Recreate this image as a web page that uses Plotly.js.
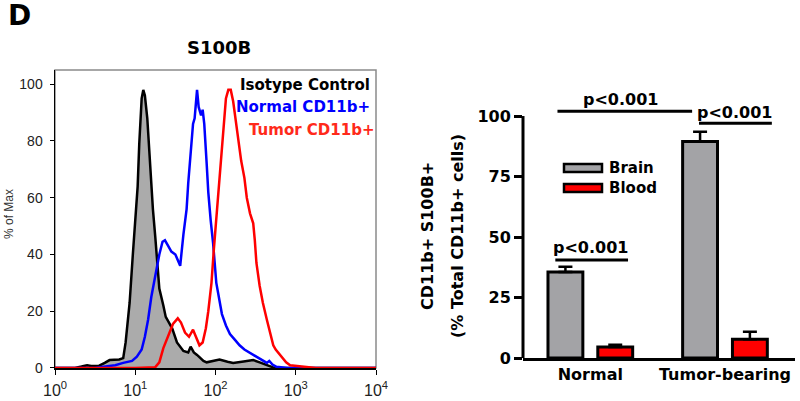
<!DOCTYPE html>
<html><head><meta charset="utf-8">
<script src="https://cdn.plot.ly/plotly-3.0.1.min.js"></script>
<style>html,body{margin:0;padding:0;background:#fff}#chart{width:800px;height:401px}</style>
</head><body><div id="chart"></div>
<script>
// ---- Histogram (log10 fluorescence, % of Max) ----
const isoDecades = [0,0.25,0.33,0.40,0.45,0.55,0.62,0.68,0.80,0.85,0.88,0.93,0.97,1.00,1.03,1.05,1.08,1.10,1.12,1.15,1.20,1.22,1.25,1.28,1.30,1.35,1.38,1.46,1.52,1.60,1.66,1.69,1.73,1.77,1.85,1.89,1.97,2.05,2.15,2.22,2.35,2.47,2.55,2.64,2.71,2.80,4];
const isoPct     = [0,0,0.5,1,0.7,0.8,1.8,2.8,3,3.5,9,23,40,52,64,79,95,98,96,88,64,56,46,35,28,22,18,14,9,6,5.5,7.5,5.5,4.6,2.5,2,2.5,3,2.2,1.8,2.3,2.8,2,1,0.3,0,0];
const normDecades = [0,0.50,0.58,0.75,0.85,0.96,1.02,1.08,1.12,1.16,1.20,1.25,1.30,1.34,1.37,1.41,1.45,1.50,1.56,1.60,1.64,1.66,1.68,1.70,1.72,1.74,1.76,1.77,1.79,1.82,1.84,1.86,1.89,1.91,1.94,1.97,2.01,2.05,2.08,2.13,2.18,2.24,2.30,2.36,2.41,2.46,2.51,2.58,2.64,2.67,2.71,2.76,2.90,4];
const normPct     = [0,0,0.4,1,1.8,2.5,4,6.5,11,17,25,33,40,44.5,45,43,41,40,36,47,56,65,72,80,86,88,95,98,92,89,91,86,72,62,52,44,30,23,19,15,12,10,8,6.5,5.7,4.8,4,3,1.8,2.5,1.2,0.4,0,0];
const tumDecades = [0,1.00,1.25,1.30,1.35,1.42,1.47,1.53,1.57,1.62,1.67,1.72,1.76,1.80,1.84,1.88,1.91,1.95,1.98,2.01,2.04,2.07,2.10,2.13,2.16,2.19,2.22,2.25,2.28,2.32,2.36,2.39,2.43,2.47,2.49,2.51,2.55,2.59,2.64,2.68,2.72,2.75,2.82,2.88,2.93,3.05,3.14,3.25,4];
const tumPct     = [0,0,0.3,2,7,12,15.5,17.5,16,12.5,11,13.5,11,8,9,14,20,30,42,52,62,74,85,95,98,98,94,88,81,73,67,60,54.5,51,45,37,29,23,17,12,8,6.5,4,2,1,0.6,0.2,0,0];
const histTickVals = [1,10,100,1000,10000];
const histTickText = ['10<sup>0</sup>','10<sup>1</sup>','10<sup>2</sup>','10<sup>3</sup>','10<sup>4</sup>'];

// ---- Bar chart ----
const groups = ['Normal','Tumor-bearing'];
const brainVals = [35.5, 89.5];
const brainErr  = [2.2, 4.0];
const bloodVals = [4.5, 7.8];
const bloodErr  = [1.0, 3.0];

const toLin = a => a.map(v => Math.pow(10, v));
const FONT = 'Liberation Sans, Arial, sans-serif';
const BOLD = 'DejaVu Sans, Liberation Sans, sans-serif';

const traces = [
  {x: toLin(isoDecades), y: isoPct, type:'scatter', mode:'lines', fill:'tozeroy',
   fillcolor:'#ababab', line:{color:'#000', width:2.5}, xaxis:'x', yaxis:'y', showlegend:false},
  {x: toLin(normDecades), y: normPct, type:'scatter', mode:'lines',
   line:{color:'#0000ff', width:2.5}, xaxis:'x', yaxis:'y', showlegend:false},
  {x: toLin(tumDecades), y: tumPct, type:'scatter', mode:'lines',
   line:{color:'#ff0000', width:2.5}, xaxis:'x', yaxis:'y', showlegend:false},
  {x: groups, y: brainVals, type:'bar', name:'Brain', xaxis:'x2', yaxis:'y2',
   marker:{color:'#a3a3a6', line:{color:'#000', width:3}},
   error_y:{type:'data', symmetric:false, array:brainErr, arrayminus:[0,0], color:'#000', thickness:2.5, width:7},
   showlegend:false},
  {x: groups, y: bloodVals, type:'bar', name:'Blood', xaxis:'x2', yaxis:'y2',
   marker:{color:'#ff0000', line:{color:'#000', width:3}},
   error_y:{type:'data', symmetric:false, array:bloodErr, arrayminus:[0,0], color:'#000', thickness:2.5, width:7},
   showlegend:false}
];

const layout = {
  width:800, height:401, margin:{l:0,r:0,t:0,b:0},
  paper_bgcolor:'#fff', plot_bgcolor:'rgba(0,0,0,0)',
  font:{family:FONT, color:'#000'},
  barmode:'group', bargap:0.26, bargroupgap:0.3,
  xaxis:{domain:[0.06875,0.47], type:'log', range:[0,4], tickvals:histTickVals, ticktext:histTickText,
    showline:true, linecolor:'#000', linewidth:1.5, ticks:'outside', ticklen:5, tickcolor:'#000',
    ticklabelstandoff:2,
    showgrid:false, zeroline:false, tickfont:{size:16, color:'#222'}},
  yaxis:{domain:[0.08229,0.82544], range:[0,105], tickvals:[0,20,40,60,80,100],
    showline:true, linecolor:'#000', linewidth:1.5, ticks:'outside', ticklen:4, tickcolor:'#000',
    ticklabelstandoff:4,
    showgrid:false, zeroline:false, tickfont:{size:14, color:'#222'}},
  xaxis2:{domain:[0.65375,0.99375], anchor:'y2', type:'category', range:[-0.5,1.52],
    showline:true, linecolor:'#000', linewidth:3, ticks:'', showgrid:false, zeroline:false,
    tickfont:{family:BOLD, size:16, weight:'bold', color:'#000'}},
  yaxis2:{domain:[0.10723,0.78304], anchor:'x2', range:[0,112], tickvals:[0,25,50,75,100],
    showline:false, ticks:'outside', ticklen:8, tickwidth:3, tickcolor:'#000',
    showgrid:false, zeroline:false, tickfont:{family:BOLD, size:16, weight:'bold', color:'#000'}},
  shapes:[
    // histogram frame (gray)
    {type:'rect', xref:'x domain', yref:'y domain', x0:0, x1:1, y0:0, y1:1, line:{color:'#8a8a8a', width:1.5}, layer:'below'},
    // bar chart y axis line
    {type:'line', xref:'x2 domain', yref:'y2', x0:0, x1:0, y0:0, y1:100, line:{color:'#000', width:3}},
    // significance lines
    {type:'line', xref:'x2', yref:'y2', x0:-0.244, x1:0.756, y0:102, y1:102, line:{color:'#000', width:3}},
    {type:'line', xref:'x2', yref:'y2', x0:0.807, x1:1.348, y0:97, y1:97, line:{color:'#000', width:3}},
    {type:'line', xref:'x2', yref:'y2', x0:-0.26, x1:0.28, y0:40.5, y1:40.5, line:{color:'#000', width:3}},
    // legend boxes
    {type:'rect', xref:'paper', yref:'paper', x0:564/800, x1:602/800, y0:1-172/401, y1:1-164/401, fillcolor:'#a3a3a6', line:{color:'#000', width:2.5}},
    {type:'rect', xref:'paper', yref:'paper', x0:564/800, x1:602/800, y0:1-192/401, y1:1-184/401, fillcolor:'#ff0000', line:{color:'#000', width:2.5}}
  ],
  annotations:[
    {text:'<b>D</b>', xref:'paper', yref:'paper', x:6/800, y:1-16/401, xanchor:'left', yanchor:'middle', showarrow:false, font:{family:BOLD, size:28}},
    {text:'<b>S100B</b>', xref:'paper', yref:'paper', x:219/800, y:1-48/401, xanchor:'center', yanchor:'middle', showarrow:false, font:{family:BOLD, size:18}},
    {text:'% of Max', xref:'paper', yref:'paper', x:9/800, y:1-214/401, textangle:-90, xanchor:'center', yanchor:'middle', showarrow:false, font:{size:12, color:'#333'}},
    {text:'<b>Isotype Control</b>', xref:'paper', yref:'paper', x:372/800, y:1-85/401, xanchor:'right', yanchor:'middle', showarrow:false, font:{family:BOLD, size:15, color:'#000'}},
    {text:'<b>Normal CD11b+</b>', xref:'paper', yref:'paper', x:372/800, y:1-107/401, xanchor:'right', yanchor:'middle', showarrow:false, font:{family:BOLD, size:15, color:'#0000ff'}},
    {text:'<b>Tumor CD11b+</b>', xref:'paper', yref:'paper', x:376/800, y:1-130/401, xanchor:'right', yanchor:'middle', showarrow:false, font:{family:BOLD, size:15, color:'#ff2a1a'}},
    {text:'<b>CD11b+ S100B+</b>', xref:'paper', yref:'paper', x:427/800, y:1-236/401, textangle:-90, xanchor:'center', yanchor:'middle', showarrow:false, font:{family:BOLD, size:16}},
    {text:'<b>(% Total CD11b+ cells)</b>', xref:'paper', yref:'paper', x:457/800, y:1-236/401, textangle:-90, xanchor:'center', yanchor:'middle', showarrow:false, font:{family:BOLD, size:16}},
    {text:'<b>p<0.001</b>', xref:'x2', yref:'y2', x:0.222, y:107, xanchor:'center', yanchor:'middle', showarrow:false, font:{family:BOLD, size:16}},
    {text:'<b>p<0.001</b>', xref:'x2', yref:'y2', x:1.07, y:101.6, xanchor:'center', yanchor:'middle', showarrow:false, font:{family:BOLD, size:16}},
    {text:'<b>p<0.001</b>', xref:'x2', yref:'y2', x:0.0, y:45.5, xanchor:'center', yanchor:'middle', showarrow:false, font:{family:BOLD, size:16}},
    {text:'<b>Brain</b>', xref:'paper', yref:'paper', x:607/800, y:1-168/401, xanchor:'left', yanchor:'middle', showarrow:false, font:{family:BOLD, size:15}},
    {text:'<b>Blood</b>', xref:'paper', yref:'paper', x:607/800, y:1-188/401, xanchor:'left', yanchor:'middle', showarrow:false, font:{family:BOLD, size:15}}
  ]
};
Plotly.newPlot('chart', traces, layout, {staticPlot:true, displayModeBar:false});
</script></body></html>
